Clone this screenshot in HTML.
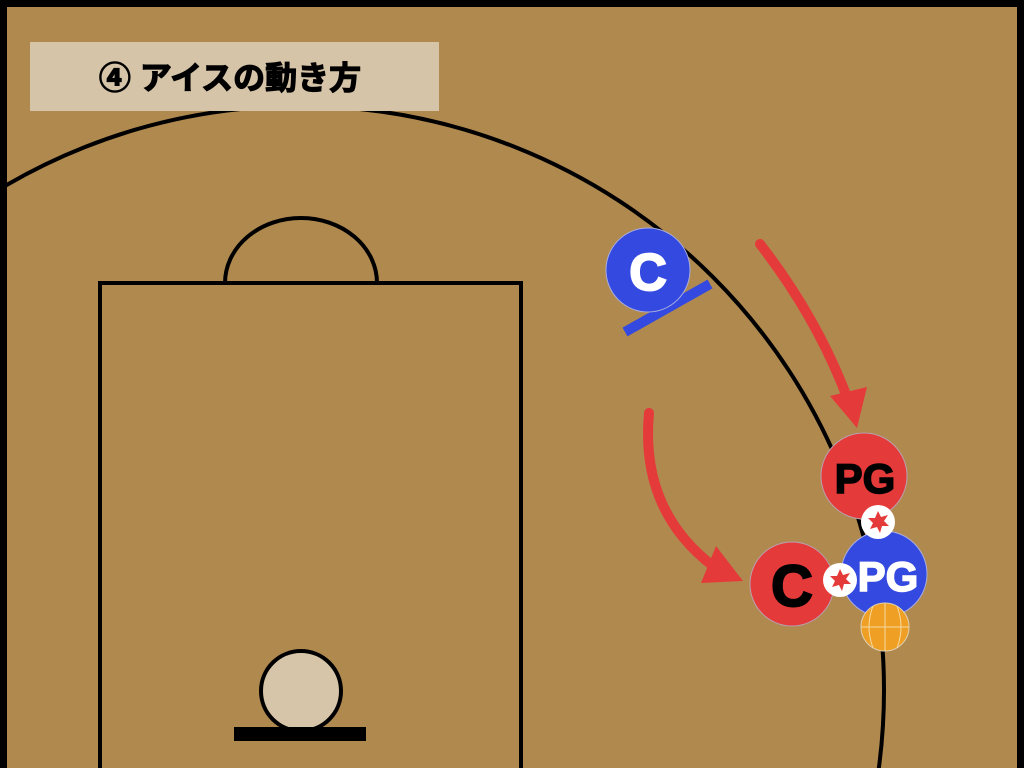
<!DOCTYPE html>
<html><head><meta charset="utf-8"><style>
html,body{margin:0;padding:0;background:#000;width:1024px;height:768px;overflow:hidden;}
svg{display:block}
</style></head><body>
<svg width="1024" height="768" viewBox="0 0 1024 768" xmlns="http://www.w3.org/2000/svg">
<rect x="0" y="0" width="1024" height="768" fill="#000"/>
<rect x="7" y="7" width="1010" height="761" fill="#b0894f"/>
<defs><clipPath id="c"><rect x="7" y="7" width="1010" height="761"/></clipPath></defs>
<g clip-path="url(#c)" fill="none" stroke="#000" stroke-width="4">
<circle cx="300" cy="690" r="584"/>
<rect x="100" y="283" width="421" height="500"/>
<path d="M225,283 A76,65 0 0 1 377,283"/>
</g>
<rect x="30" y="42" width="409" height="69" fill="#d5c4a7"/>
<text x="230" y="89" text-anchor="middle" font-family="'Liberation Sans','Noto Sans CJK JP',sans-serif" font-weight="bold" font-size="32" fill="#000" stroke="#000" stroke-width="1.2">④ アイスの動き方</text>
<circle cx="301" cy="691" r="40" fill="#d6c5a8" stroke="#000" stroke-width="4"/>
<rect x="234" y="727" width="132" height="14" fill="#000"/>
<g stroke="#e53a3a" stroke-width="10" fill="none" stroke-linecap="round">
<path d="M760,244 Q815,315 845,392"/>
<path d="M649,413 Q640,510 713,566"/>
</g>
<polygon points="857,428 830,396 867,387" fill="#e53a3a"/>
<polygon points="743,581 716,546 701,583" fill="#e53a3a"/>
<line x1="625" y1="332" x2="710" y2="284" stroke="#3349e0" stroke-width="10"/>
<circle cx="648" cy="270" r="42" fill="#3349e0" stroke="#a9aee0" stroke-width="1"/>
<text x="648" y="290" text-anchor="middle" font-family="'Liberation Sans',sans-serif" font-weight="bold" font-size="52" fill="#fff" stroke="#fff" stroke-width="2">C</text>
<circle cx="864" cy="476" r="43" fill="#e53a3a" stroke="#b9a0b0" stroke-width="1"/>
<text x="865" y="493" text-anchor="middle" font-family="'Liberation Sans',sans-serif" font-weight="bold" font-size="42" fill="#000" stroke="#000" stroke-width="1.5">PG</text>
<circle cx="884" cy="574" r="43" fill="#3349e0" stroke="#a9aee0" stroke-width="1"/>
<text x="888" y="591" text-anchor="middle" font-family="'Liberation Sans',sans-serif" font-weight="bold" font-size="42" fill="#fff" stroke="#fff" stroke-width="1.5">PG</text>
<circle cx="792" cy="584" r="42" fill="#e53a3a" stroke="#b9a0b0" stroke-width="1"/>
<text x="792" y="606" text-anchor="middle" font-family="'Liberation Sans',sans-serif" font-weight="bold" font-size="58" fill="#000" stroke="#000" stroke-width="2">C</text>
<circle cx="878" cy="522" r="17" fill="#fff"/>
<polygon points="878,511 881,517 888,515 884,521 889,526 882,526 880,533 877,527 870,529 873,523 868,518 875,518" fill="#e53a3a"/>
<circle cx="840" cy="580" r="17" fill="#fff"/>
<polygon points="840,569 843,575 850,573 846,579 851,584 844,584 842,591 839,585 832,587 835,581 830,576 837,576" fill="#e53a3a"/>
<circle cx="885" cy="627" r="24" fill="#efa024" stroke="#e0d0b0" stroke-width="1"/>
<g stroke="#f6d9a0" stroke-width="1" fill="none">
<line x1="861" y1="627" x2="909" y2="627"/>
<line x1="885" y1="603" x2="885" y2="651"/>
<path d="M873,606 Q865,627 873,648"/>
<path d="M897,606 Q905,627 897,648"/>
</g>
</svg>
</body></html>
